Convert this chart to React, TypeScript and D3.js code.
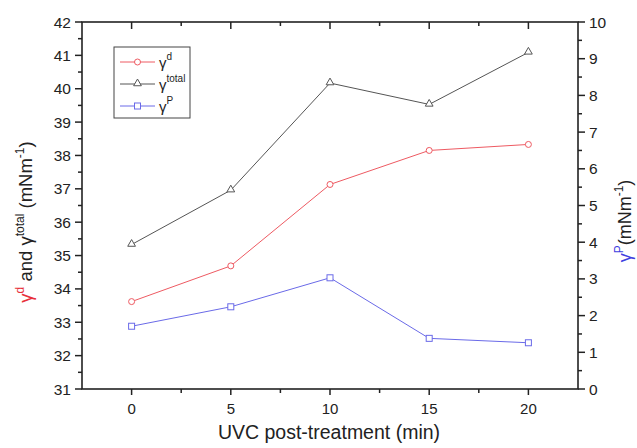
import React from "react";
import * as d3 from "d3";

const times = [0, 5, 10, 15, 20];
const gammaD = [33.62, 34.69, 37.13, 38.15, 38.33];
const gammaTotal = [35.33, 36.96, 40.17, 39.53, 41.09];
const gammaP = [1.71, 2.24, 3.03, 1.38, 1.26];
const xTicks = [0, 5, 10, 15, 20];
const leftTicks = [31, 32, 33, 34, 35, 36, 37, 38, 39, 40, 41, 42];
const rightTicks = [0, 1, 2, 3, 4, 5, 6, 7, 8, 9, 10];

const W = 637, H = 448;
const L = 82, R = 578, T = 22, B = 389;
const RED = "#ee5a62", GRAY = "#555555", BLUE = "#6a6ae8";
const FONT = "Liberation Sans, Arial, sans-serif";

export default function App() {
  const x = d3.scaleLinear().domain([-2.5, 22.5]).range([L, R]);
  const yl = d3.scaleLinear().domain([31, 42]).range([B, T]);
  const yr = d3.scaleLinear().domain([0, 10]).range([B, T]);
  const lineL = d3.line<number>().x((_, i) => x(times[i])).y((d) => yl(d));
  const lineR = d3.line<number>().x((_, i) => x(times[i])).y((d) => yr(d));
  const xMinor = d3.range(-2.5, 22.6, 2.5).filter((v) => !xTicks.includes(v) && v > -2.5 && v < 22.5);
  const lMinor = d3.range(31.5, 42, 1);
  const rMinor = d3.range(0.5, 10, 1);
  const tri = d3.symbol().type(d3.symbolTriangle).size(26)();
  const ax = "#222";

  return (
    <svg width={W} height={H} style={{ position: "absolute", left: 0, top: 0, background: "#fff" }} fontFamily={FONT}>
      {/* series */}
      <path d={lineL(gammaTotal) || ""} fill="none" stroke={GRAY} strokeWidth={1} />
      <path d={lineL(gammaD) || ""} fill="none" stroke={RED} strokeWidth={1} />
      <path d={lineR(gammaP) || ""} fill="none" stroke={BLUE} strokeWidth={1} />
      {gammaTotal.map((v, i) => (
        <path key={"t" + i} d={tri} transform={`translate(${x(times[i])},${yl(v) - 0.5})`} fill="#fff" stroke={GRAY} strokeWidth={1} />
      ))}
      {gammaD.map((v, i) => (
        <circle key={"d" + i} cx={x(times[i])} cy={yl(v)} r={3} fill="#fff" stroke={RED} strokeWidth={1} />
      ))}
      {gammaP.map((v, i) => (
        <rect key={"p" + i} x={x(times[i]) - 3} y={yr(v) - 3} width={6} height={6} fill="#fff" stroke={BLUE} strokeWidth={1} />
      ))}

      {/* frame */}
      <rect x={L} y={T} width={R - L} height={B - T} fill="none" stroke={ax} strokeWidth={1.6} />

      {/* x ticks */}
      {xTicks.map((v) => (
        <g key={"x" + v}>
          <line x1={x(v)} x2={x(v)} y1={B} y2={B + 6} stroke={ax} strokeWidth={1.5} />
          <line x1={x(v)} x2={x(v)} y1={T} y2={T + 7} stroke={ax} strokeWidth={1.5} />
          <text x={x(v)} y={414} textAnchor="middle" fontSize={15} fill="#222">{v}</text>
        </g>
      ))}
      {xMinor.map((v) => (
        <g key={"xm" + v}>
          <line x1={x(v)} x2={x(v)} y1={B} y2={B + 4} stroke={ax} strokeWidth={1.5} />
          <line x1={x(v)} x2={x(v)} y1={T} y2={T + 4} stroke={ax} strokeWidth={1.5} />
        </g>
      ))}

      {/* left ticks */}
      {leftTicks.map((v) => (
        <g key={"l" + v}>
          <line x1={L - 7} x2={L} y1={yl(v)} y2={yl(v)} stroke={ax} strokeWidth={1.5} />
          <text x={71} y={yl(v) + 5.5} textAnchor="end" fontSize={15.5} fill="#222">{v}</text>
        </g>
      ))}
      {lMinor.map((v) => (
        <line key={"lm" + v} x1={L - 4} x2={L} y1={yl(v)} y2={yl(v)} stroke={ax} strokeWidth={1.5} />
      ))}

      {/* right ticks */}
      {rightTicks.map((v) => (
        <g key={"r" + v}>
          <line x1={R} x2={R + 7} y1={yr(v)} y2={yr(v)} stroke={ax} strokeWidth={1.5} />
          <text x={589} y={yr(v) + 5.5} textAnchor="start" fontSize={15.5} fill="#222">{v}</text>
        </g>
      ))}
      {rMinor.map((v) => (
        <line key={"rm" + v} x1={R} x2={R + 4} y1={yr(v)} y2={yr(v)} stroke={ax} strokeWidth={1.5} />
      ))}

      {/* axis titles */}
      <text x={329} y={439} textAnchor="middle" fontSize={19.5} fill="#222">UVC post-treatment (min)</text>
      <text transform={`translate(32,222) rotate(-90)`} textAnchor="middle" fontSize={18.5} fill="#222">
        <tspan fill="#e8303a">γ</tspan>
        <tspan fill="#e8303a" fontSize={12} dy={-8}>d</tspan>
        <tspan dy={8}> and γ</tspan>
        <tspan fontSize={12} dy={-8}>total</tspan>
        <tspan dy={8}> (mNm</tspan>
        <tspan fontSize={12} dy={-8}>-1</tspan>
        <tspan dy={8}>)</tspan>
      </text>
      <text transform={`translate(631,221) rotate(-90)`} textAnchor="middle" fontSize={18} fill="#222">
        <tspan fill="#4040e0">γ</tspan>
        <tspan fill="#4040e0" fontSize={12} dy={-8}>P</tspan>
        <tspan dy={8}>(mNm</tspan>
        <tspan fontSize={12} dy={-8}>-1</tspan>
        <tspan dy={8}>)</tspan>
      </text>

      {/* legend */}
      <rect x={114} y={47} width={76} height={71} fill="#fff" stroke="#444" strokeWidth={1} />
      {[
        { c: RED, y: 62, s: "d", m: "circle" },
        { c: GRAY, y: 84, s: "total", m: "tri" },
        { c: BLUE, y: 106, s: "P", m: "square" },
      ].map((e) => (
        <g key={e.s}>
          <line x1={120} x2={155} y1={e.y} y2={e.y} stroke={e.c} strokeWidth={1} />
          {e.m === "circle" && <circle cx={137.5} cy={e.y} r={3} fill="#fff" stroke={e.c} />}
          {e.m === "tri" && <path d={tri} transform={`translate(137.5,${e.y - 0.5})`} fill="#fff" stroke={e.c} />}
          {e.m === "square" && <rect x={134.5} y={e.y - 3} width={6} height={6} fill="#fff" stroke={e.c} />}
          <text x={159} y={e.y + 6} fontSize={15} fill="#222">
            γ<tspan fontSize={10} dy={-8}>{e.s}</tspan>
          </text>
        </g>
      ))}
    </svg>
  );
}
